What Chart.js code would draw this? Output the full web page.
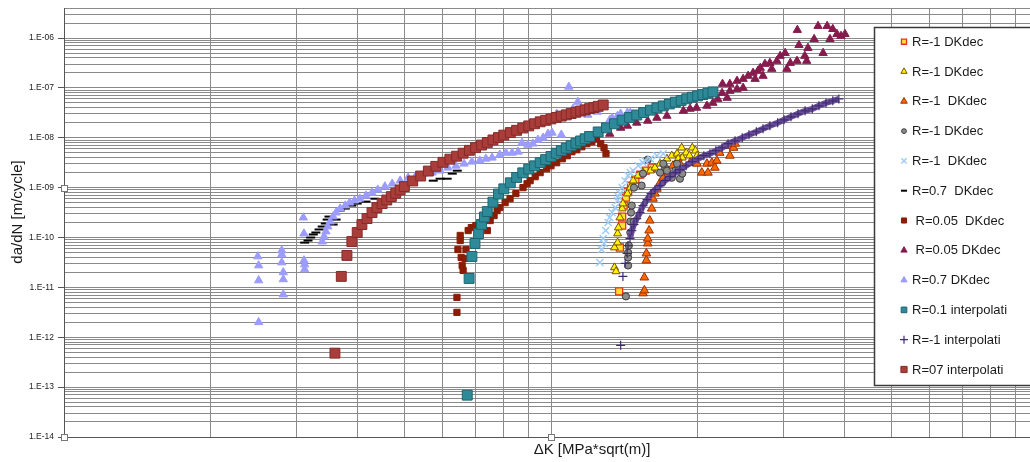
<!DOCTYPE html>
<html>
<head>
<meta charset="utf-8">
<title>da/dN - ΔK</title>
<script src="https://cdn.jsdelivr.net/npm/chart.js@4.4.1/dist/chart.umd.min.js"></script>
<style>
  html, body { margin: 0; padding: 0; background: #fff; overflow: hidden; }
  #wrap { position: relative; width: 1046px; height: 462px; }
  canvas { display: block; }
</style>
</head>
<body>
<div id="wrap"><canvas id="crackChart" width="1046" height="462"></canvas></div>
<script>
// axes
const xMin = 1, xMax = 100;
const yMin = 1e-14, yMax = 4e-6;
const xGridValues = [1, 2, 3, 4, 5, 6, 7, 8, 9, 10, 20, 30, 40, 50, 60, 70, 80, 90, 100];
const yDecades = [1e-14, 1e-13, 1e-12, 1e-11, 1e-10, 1e-9, 1e-8, 1e-7, 1e-6];
const yTickLabels = ['1.E-14', '1.E-13', '1.E-12', '1.E-11', '1.E-10', '1.E-09', '1.E-08', '1.E-07', '1.E-06'];
const minorSteps = [1, 2, 3, 4, 5, 6, 7, 8, 9];
const xTitle = 'ΔK [MPa*sqrt(m)]';
const yTitle = 'da/dN [m/cycle]';

const seriesLabels = [
  'R=-1 DKdec', 'R=-1 DKdec', 'R=-1  DKdec', 'R=-1 DKdec', 'R=-1  DKdec', 'R=0.7  DKdec',
  ' R=0.05  DKdec', ' R=0.05 DKdec', 'R=0.7 DKdec', 'R=0.1 interpolati', 'R=-1 interpolati', 'R=07 interpolati'
];

// R=-1 squares
const k1 = [13.8, 13.85, 14.0, 14.0, 14.1, 14.25, 14.4, 14.6, 14.9, 15.25, 15.65, 16.1];
const da1 = [8.3e-12, 6.3e-11, 1.74e-10, 2.63e-10, 4.37e-10, 6.3e-10, 8.3e-10, 1.1e-9, 1.45e-9, 1.82e-9, 2.19e-9, 2.51e-9];
// R=-1 yellow triangles
const k2 = [13.5, 13.6, 13.5, 13.7, 13.7, 13.75, 13.85, 14.0, 14.05, 14.35, 14.55, 14.75, 15.1, 15.45, 16.0, 16.35, 16.75, 17.3, 17.7, 18.15, 18.55, 18.95, 19.5, 19.8, 19.95, 19.25, 18.6, 18.25];
const da2 = [2.51e-11, 2.09e-11, 6.3e-11, 7.9e-11, 1.2e-10, 1.58e-10, 2.51e-10, 3.8e-10, 4.79e-10, 7.6e-10, 1.0e-9, 1.38e-9, 1.74e-9, 2.0e-9, 2.19e-9, 2.51e-9, 3.02e-9, 3.8e-9, 4.37e-9, 4.79e-9, 6.3e-9, 5.0e-9, 6.3e-9, 5.5e-9, 4.37e-9, 4.37e-9, 3.98e-9, 3.8e-9];
// R=-1 orange triangles
const k3 = [15.45, 15.55, 15.55, 15.7, 15.7, 15.8, 15.8, 15.9, 15.95, 16.1, 16.2, 16.35, 16.5, 16.75, 17.0, 17.4, 17.8, 18.4, 19.3, 19.95, 20.4, 21.0, 20.9, 21.4, 21.7, 21.9, 22.2, 23.0, 23.3, 23.7, 23.9];
const da3 = [7.6e-12, 8.7e-12, 1.58e-11, 3.47e-11, 4.79e-11, 7.6e-11, 9.5e-11, 1.38e-10, 2.19e-10, 3.8e-10, 6.0e-10, 7.6e-10, 9.5e-10, 1.26e-9, 1.58e-9, 2.0e-9, 2.75e-9, 3.02e-9, 3.16e-9, 3.02e-9, 2.0e-9, 2.0e-9, 3.02e-9, 3.16e-9, 2.51e-9, 3.47e-9, 5.0e-9, 6.9e-9, 4.37e-9, 6.3e-9, 7.6e-9];
// R=-1 grey circles
const k4 = [14.25, 14.4, 14.4, 14.4, 14.45, 14.55, 14.55, 14.8, 14.6, 14.65, 14.8, 15.35, 15.45, 15.8, 16.75, 17.15, 17.3, 17.7, 18.0, 18.4, 18.6, 18.15, 17.0];
const da4 = [6.6e-12, 2.75e-11, 3.98e-11, 5.0e-11, 6.9e-11, 1.26e-10, 2.09e-10, 2.09e-10, 3.16e-10, 4.37e-10, 1.0e-9, 1.1e-9, 1.91e-9, 3.63e-9, 2.0e-9, 2.51e-9, 2.19e-9, 1.58e-9, 2.19e-9, 1.51e-9, 1.91e-9, 3.02e-9, 3.02e-9];
// R=-1 light blue crosses
const k5 = [12.6, 12.7, 12.85, 12.8, 12.95, 13.1, 13.2, 13.35, 13.55, 13.7, 13.75, 13.85, 14.0, 14.2, 14.4, 14.55, 14.75, 15.1, 15.45, 15.6, 16.0, 16.5, 17.0];
const da5 = [3.16e-11, 5.75e-11, 7.6e-11, 9.5e-11, 1.38e-10, 2.0e-10, 2.51e-10, 3.16e-10, 3.98e-10, 5.5e-10, 6.6e-10, 7.6e-10, 1.0e-9, 1.38e-9, 1.74e-9, 2.0e-9, 2.19e-9, 2.75e-9, 3.16e-9, 3.47e-9, 3.8e-9, 4.37e-9, 4.79e-9];
// R=0.7 dashes
const k6 = [3.12, 3.17, 3.21, 3.25, 3.29, 3.34, 3.39, 3.44, 3.47, 3.5, 3.57, 3.62, 3.69, 3.78, 3.9, 4.0, 4.17, 4.35, 5.73, 5.92, 6.12, 6.27, 6.42];
const da6 = [7.9e-11, 8.7e-11, 1.0e-10, 1.15e-10, 1.26e-10, 1.45e-10, 1.66e-10, 1.91e-10, 2.29e-10, 2.63e-10, 1.82e-10, 2.29e-10, 3.47e-10, 3.8e-10, 4.37e-10, 4.79e-10, 5.25e-10, 6.0e-10, 1.38e-9, 1.51e-9, 1.51e-9, 1.91e-9, 2.19e-9];
// R=0.05 dark red squares
const k7 = [6.41, 6.41, 6.6, 6.57, 6.54, 6.66, 6.44, 6.69, 6.51, 6.51, 6.76, 6.86, 7.01, 7.4, 7.5, 7.64, 7.75, 7.85, 8.05, 8.24, 8.47, 8.76, 8.93, 9.06, 9.28, 9.5, 9.8, 10.0, 10.27, 10.55, 10.8, 11.04, 11.3, 11.57, 11.85, 12.13, 12.4, 12.65, 12.85, 12.97];
const da7 = [3.16e-12, 6.3e-12, 2.19e-11, 2.75e-11, 3.98e-11, 3.8e-11, 5.75e-11, 5.75e-11, 8.7e-11, 1.1e-10, 1.38e-10, 1.58e-10, 1.74e-10, 1.38e-10, 2.19e-10, 2.75e-10, 3.47e-10, 3.98e-10, 5.0e-10, 6.0e-10, 7.6e-10, 1.0e-9, 1.2e-9, 1.38e-9, 1.66e-9, 2.0e-9, 2.4e-9, 2.75e-9, 3.16e-9, 3.8e-9, 4.37e-9, 5.25e-9, 5.75e-9, 6.6e-9, 7.6e-9, 8.3e-9, 9.5e-9, 7.6e-9, 6.3e-9, 4.8e-9];
// R=0.05 maroon triangles
const k8 = [32.05, 35.35, 36.9, 37.9, 38.65, 40.15, 39.4, 34.7, 37.4, 32.3, 33.7, 36.2, 33.2, 33.5, 30.25, 29.55, 32.0, 31.0, 30.5, 29.1, 28.15, 27.5, 28.4, 26.9, 26.6, 26.0, 27.25, 25.4, 26.25, 24.8, 24.1, 23.3, 22.5, 24.8, 24.1, 23.3, 22.45, 23.0, 22.0, 21.5, 20.9, 19.9, 19.3, 18.7, 17.3, 16.5, 15.8, 15.0, 14.35, 13.9, 13.2];
const da8 = [1.45e-6, 1.74e-6, 1.74e-6, 1.51e-6, 1.2e-6, 1.2e-6, 1.1e-6, 9.5e-7, 9.5e-7, 7.2e-7, 6.3e-7, 5.0e-7, 4.37e-7, 3.47e-7, 5.0e-7, 4.37e-7, 3.47e-7, 3.16e-7, 2.4e-7, 3.47e-7, 3.16e-7, 3.02e-7, 2.4e-7, 2.51e-7, 2.19e-7, 2.0e-7, 1.74e-7, 1.74e-7, 1.51e-7, 1.51e-7, 1.38e-7, 1.2e-7, 1.2e-7, 1.0e-7, 9.5e-8, 8.7e-8, 7.9e-8, 6.3e-8, 6.0e-8, 5.0e-8, 4.37e-8, 3.98e-8, 3.8e-8, 3.47e-8, 2.75e-8, 2.51e-8, 2.19e-8, 2.0e-8, 1.74e-8, 1.58e-8, 1.2e-8];
// R=0.7 violet triangles
const k9 = [2.5, 2.51, 2.51, 2.51, 2.8, 2.8, 2.8, 2.82, 2.82, 2.82, 3.1, 3.11, 3.11, 3.12, 3.12,
  3.39, 3.42, 3.45, 3.48, 3.52, 3.57, 3.62, 3.69, 3.78, 3.86, 3.95, 4.05, 4.17, 4.29, 4.41, 4.56, 4.72, 4.9, 5.09, 5.28,
  5.49, 5.7, 5.92, 6.14, 6.38, 6.63, 6.88, 7.14, 7.35, 7.57, 7.85, 8.08, 8.32, 8.56, 8.72, 8.96, 9.18, 9.4, 9.63, 9.86,
  10.05, 10.27, 10.5, 10.88, 11.1, 11.35, 11.9, 12.45, 13.2, 13.35, 13.7, 13.9, 14.35, 14.55];
const da9 = [4.17e-11, 2.75e-11, 1.38e-11, 2.0e-12, 5.5e-11, 4.57e-11, 3.16e-11, 2.0e-11, 1.45e-11, 7.2e-12, 2.51e-10, 1.2e-10, 3.47e-11, 2.88e-11, 2.29e-11,
  8.3e-11, 1.05e-10, 1.32e-10, 1.66e-10, 2.09e-10, 2.63e-10, 3.16e-10, 3.8e-10, 4.37e-10, 5.0e-10, 5.5e-10, 6.0e-10, 6.9e-10, 7.9e-10, 9.1e-10, 1.05e-9, 1.2e-9, 1.38e-9, 1.58e-9, 1.74e-9,
  1.91e-9, 2.0e-9, 2.19e-9, 2.51e-9, 2.75e-9, 3.02e-9, 3.31e-9, 3.47e-9, 3.8e-9, 3.98e-9, 4.57e-9, 5.0e-9, 5.0e-9, 5.25e-9, 7.9e-9, 7.2e-9, 7.6e-9, 9.1e-9, 1.0e-8, 1.2e-8,
  1.26e-8, 3.02e-8, 1.15e-8, 1.05e-7, 3.8e-8, 5.25e-8, 2.88e-8, 3.31e-8, 2.29e-8, 2.51e-8, 2.75e-8, 3.02e-8, 3.16e-8, 3.16e-8];
// R=0.1 interpolated
const k10 = [6.73, 6.79, 6.88, 6.98, 7.1, 7.2, 7.3, 7.4, 7.6, 7.8, 8.0, 8.25, 8.5, 8.75, 9.0, 9.25, 9.5, 9.75, 10, 10.25, 10.5, 10.75, 11, 11.25, 11.5, 11.75, 12, 12.5, 13, 13.5, 14, 14.5, 15, 15.5, 16, 16.5, 17, 17.5, 18, 18.5, 19, 19.5, 20, 20.5, 21, 21.5];
const da10 = [6.9e-14, 1.51e-11, 4.17e-11, 7.6e-11, 1.2e-10, 1.83e-10, 2.58e-10, 3.31e-10, 5.11e-10, 7.45e-10, 9.46e-10, 1.25e-9, 1.6e-9, 1.98e-9, 2.36e-9, 2.74e-9, 3.16e-9, 3.65e-9, 4.21e-9, 4.9e-9, 5.52e-9, 6.19e-9, 6.95e-9, 7.73e-9, 8.63e-9, 9.55e-9, 1.06e-8, 1.31e-8, 1.58e-8, 1.91e-8, 2.25e-8, 2.55e-8, 2.86e-8, 3.21e-8, 3.58e-8, 3.98e-8, 4.35e-8, 4.76e-8, 5.18e-8, 5.6e-8, 6.05e-8, 6.49e-8, 6.92e-8, 7.35e-8, 7.83e-8, 8.32e-8];
// R=-1 interpolated
const k11 = [13.9, 14.05, 14.2, 14.33, 14.39, 14.53, 14.65, 14.8, 15.0, 15.23, 15.45, 15.75, 16.05, 16.35, 16.75, 17.15, 17.55, 18.0, 18.4, 18.94, 19.5, 20.05, 20.6, 21.2, 21.8, 22.45, 23.1, 23.87, 24.7, 25.5, 26.4, 27.25, 28.15, 29.2, 30.1, 31.1, 32.15, 33.25, 34.4, 35.5, 36.7, 37.9, 39.0];
const da11 = [6.9e-13, 1.66e-11, 3.02e-11, 4.79e-11, 6.9e-11, 9.5e-11, 1.38e-10, 1.82e-10, 2.4e-10, 3.16e-10, 4.37e-10, 5.75e-10, 7.6e-10, 9.1e-10, 1.1e-9, 1.38e-9, 1.66e-9, 2.0e-9, 2.29e-9, 2.75e-9, 3.31e-9, 3.8e-9, 4.37e-9, 4.79e-9, 5.5e-9, 6.3e-9, 7.6e-9, 8.7e-9, 1.0e-8, 1.15e-8, 1.32e-8, 1.51e-8, 1.74e-8, 2.0e-8, 2.29e-8, 2.63e-8, 3.02e-8, 3.47e-8, 3.8e-8, 4.37e-8, 5.0e-8, 5.5e-8, 6.0e-8];
// R=0.7 interpolated
const k12 = [3.6, 3.71, 3.81, 3.9, 4.0, 4.09, 4.19, 4.29, 4.39, 4.5, 4.6, 4.7, 4.8, 4.9, 5.0, 5.2, 5.4, 5.6, 5.8, 6.0, 6.2, 6.4, 6.6, 6.8, 7.0, 7.2, 7.4, 7.6, 7.8, 8.0, 8.25, 8.5, 8.75, 9.0, 9.25, 9.5, 9.75, 10, 10.25, 10.5, 10.75, 11, 11.25, 11.5, 11.75, 12, 12.25, 12.5, 12.8];
const da12 = [4.8e-13, 1.66e-11, 4.37e-11, 8.3e-11, 1.26e-10, 1.82e-10, 2.4e-10, 3.16e-10, 3.98e-10, 4.79e-10, 5.65e-10, 6.61e-10, 7.73e-10, 8.99e-10, 1.05e-9, 1.36e-9, 1.71e-9, 2.15e-9, 2.67e-9, 3.22e-9, 3.72e-9, 4.27e-9, 4.9e-9, 5.6e-9, 6.34e-9, 7.14e-9, 8.05e-9, 9.04e-9, 1.01e-8, 1.13e-8, 1.27e-8, 1.41e-8, 1.57e-8, 1.73e-8, 1.91e-8, 2.09e-8, 2.24e-8, 2.39e-8, 2.55e-8, 2.72e-8, 2.88e-8, 3.06e-8, 3.25e-8, 3.44e-8, 3.63e-8, 3.84e-8, 4.04e-8, 4.27e-8, 4.55e-8];

const FONT = '"Liberation Sans", Arial, sans-serif';
Chart.defaults.font.family = FONT;
Chart.defaults.color = '#222';

const pts = (xs, ys) => xs.map((x, i) => ({ x: x, y: ys[i] }));

// marker style per series (main plot / legend size)
const styles = [
  { shape: 'rect', r: 5, lr: 3.6, fill: '#FFE033', line: '#E8321E', w: 1.3 },
  { shape: 'triangle', r: 4.6, lr: 3.6, fill: '#FFF200', line: '#7A5200', w: 1 },
  { shape: 'triangle', r: 5, lr: 3.8, fill: '#FF6A00', line: '#9A2E00', w: 1 },
  { shape: 'circle', r: 3.6, lr: 2.4, fill: '#8C8C8C', line: '#3A3A3A', w: 1 },
  { shape: 'crossRot', r: 5, lr: 3.8, fill: '#9CCBF7', line: '#9CCBF7', w: 1.4 },
  { shape: 'line', r: 4.5, lr: 3, fill: '#000', line: '#000', w: 2 },
  { shape: 'rect', r: 4.4, lr: 3.6, fill: '#8B1C06', line: '#8B1C06', w: 1 },
  { shape: 'triangle', r: 4.8, lr: 3.6, fill: '#861C4E', line: '#861C4E', w: 1 },
  { shape: 'triangle', r: 4.8, lr: 3.6, fill: '#9C9CFF', line: '#9C9CFF', w: 1 },
  { shape: 'rect', r: 7, lr: 4, fill: '#2E8A99', line: '#1F6470', w: 1 },
  { shape: 'cross', r: 4.5, lr: 4, fill: '#3D2C70', line: '#3D2C70', w: 1.2 },
  { shape: 'rect', r: 7, lr: 4.4, fill: '#A83D3A', line: '#872A29', w: 1 }
];

const seriesData = [
  pts(k1, da1), pts(k2, da2), pts(k3, da3), pts(k4, da4), pts(k5, da5), pts(k6, da6),
  pts(k7, da7), pts(k8, da8), pts(k9, da9), pts(k10, da10), pts(k11, da11), pts(k12, da12)
];

const datasets = seriesData.map((data, i) => {
  const s = styles[i];
  return {
    label: seriesLabels[i],
    data: data,
    order: seriesData.length - i, // later series drawn on top
    pointStyle: s.shape,
    pointRadius: s.r,
    pointBackgroundColor: s.fill,
    pointBorderColor: s.line,
    pointBorderWidth: s.w,
    backgroundColor: s.fill,
    borderColor: s.line,
    showLine: false
  };
});

// the interpolated R=-1 points merge into a thick band
Object.assign(datasets[10], {
  showLine: true,
  borderColor: '#6A4E98',
  borderWidth: 6,
  segment: { borderColor: (c) => (c.p0DataIndex < 5 ? 'rgba(0,0,0,0)' : undefined) }
});

const overlay = {
  id: 'overlay',
  afterDraw(chart) {
    const { ctx, scales } = chart;
    const x = scales.x, y = scales.y;
    ctx.save();

    // axis titles
    ctx.fillStyle = '#1a1a1a';
    ctx.font = '15px ' + FONT;
    ctx.textAlign = 'center';
    ctx.textBaseline = 'middle';
    ctx.fillText(xTitle, 592, 450);
    ctx.save();
    ctx.translate(18, 212);
    ctx.rotate(-Math.PI / 2);
    ctx.fillText(yTitle, 0, 0);
    ctx.restore();

    // selection handles on the axes
    const handles = [
      [x.left, y.getPixelForValue(1e-9)],
      [x.left, y.bottom],
      [x.getPixelForValue(10), y.bottom]
    ];
    ctx.lineWidth = 1;
    ctx.strokeStyle = '#777';
    ctx.fillStyle = '#fff';
    handles.forEach(([hx, hy]) => {
      ctx.fillRect(Math.round(hx) - 3, Math.round(hy) - 3, 6, 6);
      ctx.strokeRect(Math.round(hx) - 2.5, Math.round(hy) - 2.5, 6, 6);
    });

    // legend box, running off the right edge
    const bx = 874, by = 27, bw = 200, bh = 358;
    ctx.fillStyle = '#fff';
    ctx.fillRect(bx, by, bw, bh);
    ctx.strokeStyle = '#3a3a3a';
    ctx.lineWidth = 1.5;
    ctx.strokeRect(bx + 0.5, by + 0.5, bw, bh);

    ctx.font = '13px ' + FONT;
    ctx.textAlign = 'left';
    ctx.textBaseline = 'middle';
    chart.data.datasets.forEach((ds, i) => {
      const s = styles[i];
      const ly = 41.7 + i * 29.8;
      ctx.fillStyle = s.fill;
      ctx.strokeStyle = s.line;
      ctx.lineWidth = s.shape === 'line' ? 2 : s.w;
      Chart.helpers.drawPoint(ctx, { pointStyle: s.shape, radius: s.lr, rotation: 0, borderWidth: ctx.lineWidth }, 904, ly);
      ctx.fillStyle = '#1a1a1a';
      ctx.fillText(ds.label, 912, ly + 0.5);
    });
    ctx.restore();
  }
};

new Chart(document.getElementById('crackChart'), {
  type: 'scatter',
  data: { datasets: datasets },
  options: {
    responsive: false,
    animation: false,
    events: [],
    // canvas is wider than the window so the plot runs past the right edge
    layout: { padding: { top: 7, right: 0, left: 0, bottom: 0 } },
    plugins: { legend: { display: false }, tooltip: { enabled: false } },
    scales: {
      x: {
        type: 'logarithmic',
        min: xMin,
        max: xMax,
        afterBuildTicks: (scale) => { scale.ticks = xGridValues.map((v) => ({ value: v })); },
        afterFit: (scale) => {
          scale.height = 25;
          scale.paddingLeft = 0;
          scale.paddingRight = 0;
        },
        ticks: { display: false, callback: () => '' },
        grid: { color: '#8a8a8a', lineWidth: 1, drawTicks: false },
        border: { display: true, color: '#555', width: 1 }
      },
      y: {
        type: 'logarithmic',
        min: yMin,
        max: yMax,
        afterBuildTicks: (scale) => {
          const ticks = [];
          yDecades.forEach((d, i) => {
            minorSteps.forEach((m) => {
              const v = m * d;
              if (v <= yMax * 1.0001) ticks.push({ value: v, text: m === 1 ? yTickLabels[i] : '', decade: m === 1 });
            });
          });
          scale.ticks = ticks;
        },
        afterFit: (scale) => {
          scale.width = 64;
          scale.paddingTop = 0;
          scale.paddingBottom = 0;
        },
        ticks: {
          autoSkip: false,
          padding: 4,
          font: { size: 8.5 },
          color: '#222',
          callback: (value, index, ticks) => ticks[index].text
        },
        grid: {
          color: '#8a8a8a',
          lineWidth: 1,
          tickLength: 6,
          tickColor: (c) => (c.tick && c.tick.decade ? '#555' : 'rgba(0,0,0,0)')
        },
        border: { display: true, color: '#555', width: 1 }
      }
    }
  },
  plugins: [overlay]
});
</script>
</body>
</html>
